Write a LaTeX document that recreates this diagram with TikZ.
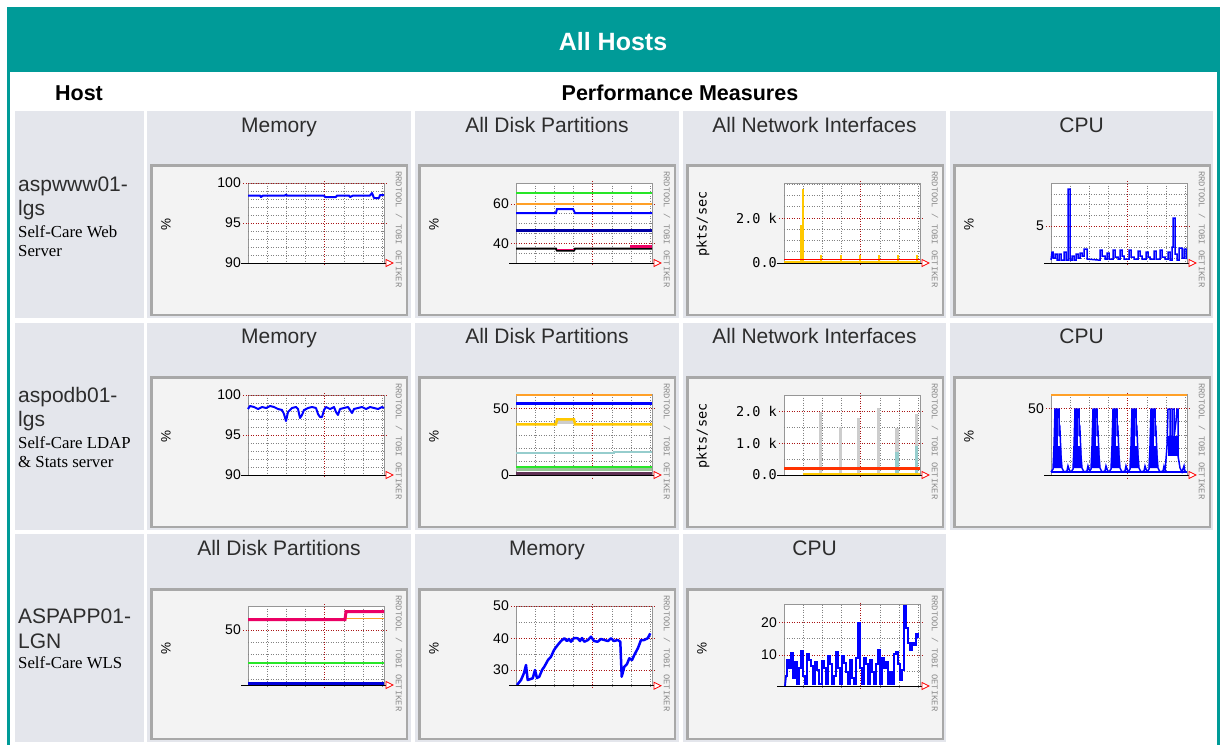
\documentclass[tikz,border=0pt]{standalone}
\usepackage{fontspec}
\setmainfont{Liberation Sans}
\newfontfamily\descfont{Liberation Serif}
\newfontfamily\rrdmono{Liberation Mono}
\newfontfamily\labmono{DejaVu Sans Mono}
\definecolor{tealc}{RGB}{0,155,152}
\definecolor{cellc}{RGB}{228,230,236}
\definecolor{framec}{RGB}{243,243,243}
\definecolor{frameb}{RGB}{168,168,168}
\definecolor{majc}{RGB}{170,20,20}
\definecolor{minc}{RGB}{130,130,130}
\definecolor{edgec}{RGB}{150,150,150}
\definecolor{datab}{RGB}{0,0,255}
\definecolor{navyc}{RGB}{0,0,165}
\definecolor{orangec}{RGB}{255,160,40}
\definecolor{greenc}{RGB}{40,230,40}
\definecolor{pinkc}{RGB}{235,0,100}
\definecolor{yellowc}{RGB}{255,200,0}
\definecolor{lteal}{RGB}{150,205,205}
\definecolor{barg}{RGB}{205,205,205}
\definecolor{txtc}{RGB}{45,45,45}
\definecolor{markc}{RGB}{140,140,140}
\definecolor{sagec}{RGB}{150,195,150}
\definecolor{plumc}{RGB}{95,50,85}
\definecolor{redorc}{RGB}{255,50,0}
\tikzset{
 minorgrid/.style={minc, line width=0.6pt, dash pattern=on 1pt off 1.5pt},
 majorgrid/.style={majc, line width=0.8pt, dash pattern=on 1pt off 1.5pt},
 plotedge/.style={edgec, line width=0.8pt},
 axisline/.style={black, line width=1pt},
 ylab/.style={anchor=east, inner sep=0pt, font=\fontsize{14}{15}\selectfont, text=black},
 ylabm/.style={anchor=east, inner sep=0pt, font=\labmono\fontsize{13.5}{15}\selectfont, text=black},
 rrdmark/.style={rotate=-90, anchor=west, inner sep=0pt, font=\rrdmono\fontsize{8.8}{9}\selectfont, text=markc},
 celltitle/.style={anchor=base, inner sep=0pt, font=\fontsize{21}{24}\selectfont, text=txtc},
 hostname/.style={anchor=base west, inner sep=0pt, font=\fontsize{21}{24}\selectfont, text=txtc},
 hostdesc/.style={anchor=base west, inner sep=0pt, font=\descfont\fontsize{16.8}{18}\selectfont, text=black},
 colhead/.style={anchor=base, inner sep=0pt, font=\bfseries\fontsize{21.5}{24}\selectfont, text=black},
 series/.style={datab, line width=2pt, line join=round},
 thinser/.style={datab, line width=1.5pt, line join=miter},
}
\newcommand\rrdbase[2]{%
  \fill[framec] (0,0) rectangle (258,152);
  \draw[frameb, line width=2.5pt] (1.25,1.25) rectangle (256.75,150.75);
  \fill[white] (98,#1) rectangle (234,#2);
  \foreach \k in {1,2,3,5,6,7}{\draw[minorgrid] ({98+19.2*\k},#1) -- ({98+19.2*\k},{#2+2});}
  \draw[majorgrid] ({98+19.2*4},{#1-2}) -- ({98+19.2*4},{#2+3});
  \draw[plotedge] (98,#2) -- (98,#1) -- (234,#1) -- (234,#2);
  \node[rrdmark] at (249,7) {RRDTOOL / TOBI OETIKER};
}
\newcommand\hmin[1]{\draw[minorgrid] (98,#1) -- (234,#1);}
\newcommand\hmaj[2]{\draw[majorgrid] (93,#1) -- (238,#1); \node[ylab] at (91,#1) {#2};}
\newcommand\hmajm[2]{\draw[majorgrid] (93,#1) -- (238,#1); \node[ylabm] at (91,#1) {#2};}
\newcommand\rrdaxis[1]{\draw[axisline] (91,#1) -- (236,#1);
  \draw[red, fill=white, line width=0.8pt] (236,{#1-3.5}) -- (243,#1) -- (236,{#1+3.5}) -- cycle;}
\newcommand\pct{\node[rotate=90, inner sep=0pt, font=\fontsize{13.5}{13}\selectfont] at (16,60) {\%};}
\newcommand\pkts{\node[rotate=90, inner sep=0pt, font=\labmono\fontsize{13.5}{13}\selectfont] at (17,60) {pkts/sec};}
\begin{document}
\begin{tikzpicture}[x=1pt,y=-1pt]
\useasboundingbox (0,0) rectangle (1221,745);
\fill[white] (0,0) rectangle (1221,745);
% frame and header
\fill[tealc] (7,7) rectangle (1219.5,72);
\fill[tealc] (7,7) rectangle (9.5,745);
\fill[tealc] (1217,7) rectangle (1219.5,745);
\node[anchor=base, inner sep=0pt, font=\bfseries\fontsize{25}{28}\selectfont, text=white] (title) at (613,50) {All Hosts};
\node[colhead] (hhost) at (79,100) {Host};
\node[colhead] (hperf) at (680,100) {Performance Measures};
% cells
\foreach \t/\b in {111/318,322.5/529.5}{
  \fill[cellc] (15,\t) rectangle (144,\b);
  \fill[cellc] (147,\t) rectangle (411,\b);
  \fill[cellc] (415,\t) rectangle (679,\b);
  \fill[cellc] (683,\t) rectangle (946,\b);
  \fill[cellc] (950,\t) rectangle (1213,\b);
}
\fill[cellc] (15,534) rectangle (144,742);
\fill[cellc] (147,534) rectangle (411,742);
\fill[cellc] (415,534) rectangle (679,742);
\fill[cellc] (683,534) rectangle (946,742);
% titles
\node[celltitle] (t11) at (279,132) {Memory};
\node[celltitle] (t12) at (547,132) {All Disk Partitions};
\node[celltitle] (t13) at (814.5,132) {All Network Interfaces};
\node[celltitle] (t14) at (1081.5,132) {CPU};
\node[celltitle] (t21) at (279,343.5) {Memory};
\node[celltitle] (t22) at (547,343.5) {All Disk Partitions};
\node[celltitle] (t23) at (814.5,343.5) {All Network Interfaces};
\node[celltitle] (t24) at (1081.5,343.5) {CPU};
\node[celltitle] (t31) at (279,555) {All Disk Partitions};
\node[celltitle] (t32) at (547,555) {Memory};
\node[celltitle] (t33) at (814.5,555) {CPU};
% hosts
\node[hostname] (h1a) at (18,191) {aspwww01-};
\node[hostname] (h1b) at (18,215) {lgs};
\node[hostdesc] (h1c) at (18,237) {Self-Care Web};
\node[hostdesc] (h1d) at (18,256) {Server};
\node[hostname] (h2a) at (18,402) {aspodb01-};
\node[hostname] (h2b) at (18,426) {lgs};
\node[hostdesc] (h2c) at (18,448) {Self-Care LDAP};
\node[hostdesc] (h2d) at (18,467) {\& Stats server};
\node[hostname] (h3a) at (18,623) {ASPAPP01-};
\node[hostname] (h3b) at (18,648) {LGN};
\node[hostdesc] (h3c) at (18,668) {Self-Care WLS};
%% chart 1: memory row 1
\begin{scope}[shift={(150,164)}]
\rrdbase{19}{99}
\foreach \y in {27,35,43,51,67,75,83,91}{\hmin{\y}}
\hmaj{19}{100}\hmaj{59}{95}\node[ylab] at (91,99) {90};
\draw[series] (98,31.5) -- (110,31.5) -- (111,33) -- (113,31.5) -- (135,31.5) -- (136,30.5) -- (137,31.5) -- (174,31.5) -- (175,33) -- (186,33) -- (187,31.5) -- (199,31.5) -- (200,33) -- (203,31.5) -- (220,31.5) -- (222,29) -- (224,34) -- (229,34) -- (230,31) -- (234,31);
\rrdaxis{99}\pct
\end{scope}
%% chart 2: disks row 1
\begin{scope}[shift={(418,164)}]
\rrdbase{19}{99}
\foreach \y in {29.5,49.5,59.5,69.5,89.5}{\hmin{\y}}
\hmaj{40}{60}\hmaj{79.5}{40}
\draw[greenc, line width=1.8pt] (98,29.3) -- (234,29.3);
\draw[orangec, line width=1.2pt] (98,40) -- (234,40);
\draw[datab, line width=2pt] (98,49) -- (138,49) -- (139,45) -- (155,45) -- (157,49) -- (234,49);
\draw[navyc, line width=2.5pt] (98,66.7) -- (234,66.7);
\draw[black, line width=2pt] (98,84.7) -- (138,84.7) -- (139,86.5) -- (156,86.5) -- (157,84.7) -- (234,84.7);
\draw[pinkc, line width=1.2pt] (139,85.2) -- (156,85.2);
\draw[pinkc, line width=2.5pt] (212,82.3) -- (234,82.3);
\rrdaxis{99}\pct
\end{scope}
%% chart 3: network row 1
\begin{scope}[shift={(686,164)}]
\rrdbase{19}{99}
\foreach \y in {20.25,31.5,42.75,65.25,76.5,87.75}{\hmin{\y}}
\hmajm{54}{2.0 k}\node[ylabm] at (91,99) {0.0};
\fill[yellowc] (114,99) rectangle (116.5,61);
\fill[yellowc] (115.5,99) rectangle (118,25);
\foreach \x in {134,154,173,192,211,230}{\fill[yellowc] (\x,99) rectangle ({\x+2},91);}
\fill[yellowc] (98,96.5) rectangle (234,99);
\draw[red, line width=1.2pt] (98,95.5) -- (234,95.5);
\rrdaxis{99}\pkts
\end{scope}
%% chart 4: cpu row 1
\begin{scope}[shift={(953,164)}]
\rrdbase{19}{99}
\foreach \y in {29.9,40.6,51.3,72.7,83.4,94.1}{\hmin{\y}}
\hmaj{62}{5}
\draw[thinser] (98,96) -- (99,88) -- (100,88) -- (100,94) -- (102,94) -- (102,90) -- (104,90) -- (104,96) -- (106,96) -- (106,90) -- (108,90) -- (108,96) -- (111,96) -- (111,88) -- (113,88) -- (113,96) -- (115,96) -- (115,25) -- (117,25) -- (117,96) -- (119,96) -- (119,92) -- (121,92) -- (121,96) -- (123,96) -- (123,90) -- (125,90) -- (125,94) -- (127,94) -- (127,89) -- (129,89) -- (129,92) -- (131,92) -- (131,85) -- (134,85) -- (134,95) -- (145,96) -- (147,96) -- (147,86) -- (149,86) -- (149,92) -- (152,92) -- (152,95) -- (154,95) -- (154,89) -- (156,89) -- (156,95) -- (160,95) -- (160,86) -- (162,86) -- (162,93) -- (165,93) -- (165,95) -- (167,95) -- (167,86) -- (169,86) -- (169,92) -- (171,92) -- (171,95) -- (176,95) -- (176,86) -- (178,86) -- (178,93) -- (181,93) -- (181,95) -- (185,95) -- (185,87) -- (187,87) -- (187,92) -- (189,92) -- (189,95) -- (193,95) -- (193,88) -- (195,88) -- (195,93) -- (197,93) -- (197,95) -- (201,95) -- (201,87) -- (203,87) -- (203,95) -- (207,95) -- (207,86) -- (209,86) -- (209,93) -- (212,93) -- (212,95) -- (215,95) -- (215,88) -- (217,88) -- (217,96) -- (219,96) -- (219,83) -- (220,83) -- (220,54) -- (222,54) -- (222,90) -- (224,90) -- (224,96) -- (226,96) -- (226,84) -- (229,84) -- (229,94) -- (231,94) -- (231,85) -- (233,85) -- (233,95);
\rrdaxis{99}\pct
\end{scope}
%% chart 5: memory row 2
\begin{scope}[shift={(150,376)}]
\rrdbase{19}{99}
\foreach \y in {27,35,43,51,67,75,83,91}{\hmin{\y}}
\hmaj{19}{100}\hmaj{59}{95}\node[ylab] at (91,99) {90};
\draw[series] (98,33) -- (100,30) -- (104,31) -- (108,33) -- (112,31) -- (116,32) -- (120,30) -- (124,31) -- (128,33) -- (132,34) -- (134,38) -- (136,45) -- (138,36) -- (142,32) -- (146,31) -- (148,33) -- (150,42) -- (152,39) -- (154,34) -- (158,32) -- (162,31) -- (166,32) -- (168,38) -- (170,41) -- (172,41) -- (174,34) -- (176,31) -- (180,33) -- (184,31) -- (186,36) -- (188,39) -- (190,33) -- (194,32) -- (198,31) -- (200,34) -- (202,37) -- (204,33) -- (208,32) -- (212,31) -- (216,33) -- (220,31) -- (224,32) -- (228,33) -- (232,31) -- (234,32);
\rrdaxis{99}\pct
\end{scope}
%% chart 6: disks row 2
\begin{scope}[shift={(418,376)}]
\rrdbase{18.5}{99}
\foreach \y in {45.6,58.9,72.2,85.5}{\hmin{\y}}
\hmaj{32.3}{50}\node[ylab] at (91,99) {0};
\draw[orangec, line width=1.5pt] (98,18.8) -- (234,18.8);
\draw[datab, line width=2.5pt] (98,27.3) -- (234,27.3);
\fill[barg] (138,43.5) rectangle (156,48);
\draw[yellowc, line width=2.5pt] (98,48.3) -- (138,48.3) -- (139,43.3) -- (156,43.3) -- (157,48.3) -- (234,48.3);
\draw[lteal, line width=2pt] (98,77.3) -- (196,77.3) -- (196,76) -- (234,76);
\draw[greenc, line width=2pt] (98,90.5) -- (234,90.5);
\fill[sagec] (98,92) rectangle (234,95.3);
\fill[plumc] (98,95.5) rectangle (234,98.5);
\rrdaxis{99}\pct
\end{scope}
%% chart 7: network row 2
\begin{scope}[shift={(686,376)}]
\rrdbase{19}{99}
\foreach \y in {51,83}{\hmin{\y}}
\hmajm{35}{2.0 k}\hmajm{67}{1.0 k}\node[ylabm] at (91,99) {0.0};
\foreach \x/\h in {134.3/35.7,154.3/50.7,172.7/42,192.3/32,211/52,230.3/38}{\fill[barg] ({\x-1.6},99) rectangle ({\x+1.6},\h);}
\fill[lteal] (209.4,99) rectangle (212.6,75.7);
\fill[lteal] (228.7,99) rectangle (231.9,70);
\draw[yellowc, line width=1.5pt] (116.7,98) -- (234,98);
\draw[redorc, line width=2.5pt] (98,92.3) -- (234,92.3);
\rrdaxis{99}\pkts
\end{scope}
%% chart 8: cpu row 2
\begin{scope}[shift={(953,376)}]
\rrdbase{18.5}{99}
\foreach \y in {45.6,58.9,72.2,85.5}{\hmin{\y}}
\hmaj{32.3}{50}
\draw[orangec, line width=1.5pt] (98,18.8) -- (234,18.8);
\draw[thinser] (98,96) -- (234,96);
\foreach \p in {102,122,140,160,179,198}{
  \draw[thinser] ({\p-4},96) -- ({\p-2},93) -- ({\p-1},70) -- (\p,33) -- ({\p+2},33) -- ({\p+2},45) -- ({\p+3},33) -- ({\p+4},33) -- ({\p+4},60) -- ({\p+5},55) -- ({\p+6},80) -- ({\p+7},92) -- ({\p+9},96) -- ({\p+12},95) -- ({\p+13},90) -- ({\p+15},96);
  \fill[datab] ({\p-0.5},33) rectangle ({\p+3},70);
  \fill[datab] ({\p-2},70) -- ({\p+6},70) -- ({\p+7},92) -- ({\p-2},92) -- cycle;
}
\draw[thinser] (212,96) -- (214,70) -- (215,33) -- (217,33) -- (217,60) -- (219,62) -- (219,33) -- (221,33) -- (221,62) -- (223,45) -- (224,33) -- (225,33) -- (225,80) -- (227,92) -- (229,96) -- (231,90) -- (232,96);
\fill[datab] (214.5,60) rectangle (225,80);
\rrdaxis{99}\pct
\end{scope}
%% chart 9: disks row 3
\begin{scope}[shift={(150,588)}]
\rrdbase{18}{97}
\foreach \y in {30.3,54.3,66,78.7,91}{\hmin{\y}}
\hmaj{42}{50}
\draw[orangec, line width=1.2pt] (98,30.3) -- (234,30.3);
\draw[pinkc, line width=3pt] (98,31.5) -- (195,31.5) -- (196,23.7) -- (234,23.7);
\draw[greenc, line width=2pt] (98,74.7) -- (234,74.7);
\draw[datab!85!black, line width=3pt] (98,95.3) -- (234,95.3);
\rrdaxis{97}\pct
\end{scope}
%% chart 10: memory row 3
\begin{scope}[shift={(418,588)}]
\rrdbase{18}{97.7}
\foreach \y in {34,66}{\hmin{\y}}
\hmaj{18}{50}\hmaj{50.3}{40}\hmaj{82}{30}
\draw[series, line width=2.5pt] (99,97) -- (103,92) -- (106,85) -- (108,77) -- (109.7,92) -- (114.7,90.3) -- (117,82) -- (119,90) -- (121.3,88.7) -- (124,82) -- (126.3,78.7) -- (130,72) -- (133,68.7) -- (136,62) -- (139.7,57) -- (143,53) -- (146.3,50.3) -- (149,53) -- (151,51) -- (153,53.7) -- (156,50) -- (159.7,50.3) -- (162,53) -- (164,50) -- (166.3,53.7) -- (170,52) -- (173,48.7) -- (176,53) -- (179.7,53.7) -- (183,51) -- (186.3,52) -- (190,53) -- (193,50.3) -- (196,53) -- (199.7,52) -- (202.3,53.7) -- (203.7,88.7) -- (206.3,78.7) -- (209,76) -- (211.3,70.3) -- (214,72) -- (216.3,67) -- (220,60) -- (223,52) -- (226,52) -- (229.7,50.3) -- (232.3,45.3);
\rrdaxis{97.7}\pct
\end{scope}
%% chart 11: cpu row 3
\begin{scope}[shift={(686,588)}]
\rrdbase{16.5}{98}
\foreach \y in {50.3,83}{\hmin{\y}}
\hmaj{34.3}{20}\hmaj{67}{10}
\draw[thinser, line width=1.8pt] (99,98) -- (100,88) -- (101,88) -- (101,72) -- (103,72) -- (103,80) -- (105,80) -- (105,65) -- (107,65) -- (107,90) -- (109,90) -- (109,74) -- (111,74) -- (111,96) -- (113,96) -- (113,80) -- (115,80) -- (115,63) -- (117,63) -- (117,88) -- (119,88) -- (119,96) -- (121,96) -- (121,66) -- (123,66) -- (123,72) -- (125,72) -- (125,78) -- (127,78) -- (127,96) -- (129,96) -- (129,74) -- (131,74) -- (131,82) -- (133,82) -- (133,96) -- (136,96) -- (136,73) -- (138,73) -- (138,80) -- (140,80) -- (140,96) -- (142,96) -- (142,68) -- (144,68) -- (144,76) -- (146,76) -- (146,96) -- (148,96) -- (148,88) -- (150,88) -- (150,64) -- (152,64) -- (152,80) -- (154,80) -- (154,96) -- (156,96) -- (156,68) -- (158,68) -- (158,75) -- (160,75) -- (160,84) -- (162,84) -- (162,96) -- (164,96) -- (164,72) -- (166,72) -- (166,90) -- (168,90) -- (168,96) -- (170,96) -- (170,70) -- (172,70) -- (172,35) -- (174,35) -- (174,80) -- (176,80) -- (176,96) -- (178,96) -- (178,70) -- (180,70) -- (180,76) -- (182,76) -- (182,96) -- (184,96) -- (184,72) -- (186,72) -- (186,84) -- (188,84) -- (188,96) -- (190,96) -- (190,76) -- (192,76) -- (192,62) -- (194,62) -- (194,96) -- (196,96) -- (196,70) -- (198,70) -- (198,80) -- (200,80) -- (200,74) -- (202,74) -- (202,96) -- (204,96) -- (204,84) -- (206,84) -- (206,96) -- (208,96) -- (208,66) -- (210,66) -- (210,64) -- (212,64) -- (212,76) -- (214,76) -- (214,92) -- (216,92) -- (216,82) -- (218,82) -- (218,18) -- (220,18) -- (220,40) -- (222,40) -- (222,55) -- (224,55) -- (224,62) -- (226,62) -- (226,55) -- (228,55) -- (228,57) -- (230,57) -- (230,46) -- (232,46) -- (232,50);
\rrdaxis{98}\pct
\end{scope}
\end{tikzpicture}
\end{document}
